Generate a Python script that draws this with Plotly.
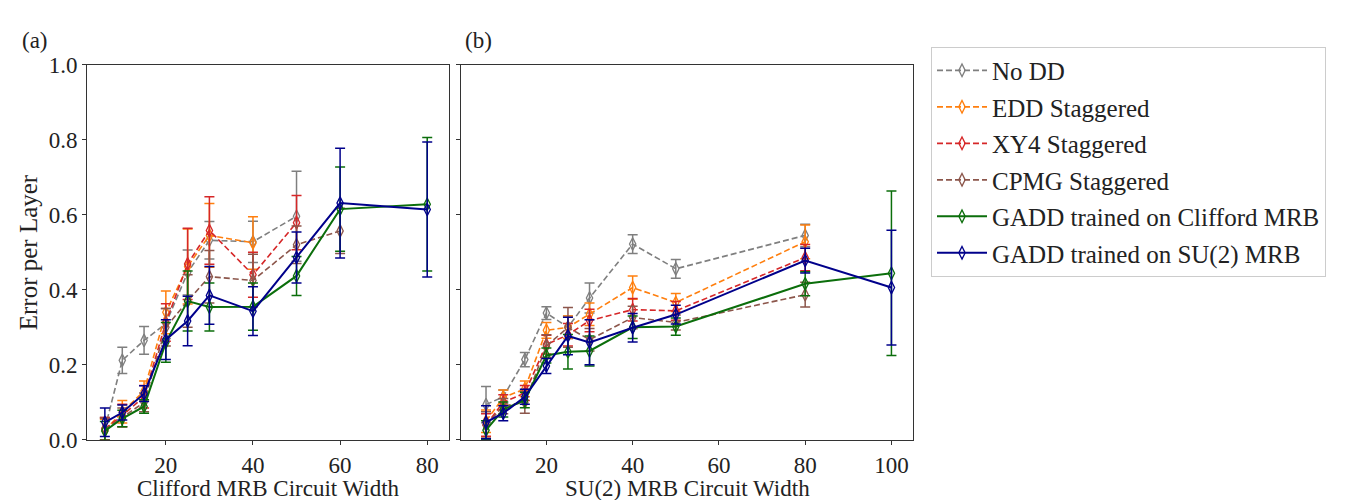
import plotly.graph_objects as go

FONT = "Times New Roman, Liberation Serif, DejaVu Serif, serif"

# widths used in each panel
widths_a = [6, 10, 15, 20, 25, 30, 40, 50, 60, 80]
widths_b = [6, 10, 15, 20, 25, 30, 40, 50, 80, 100]

# (a) Clifford MRB
nodd_a = [0.03, 0.212, 0.265, 0.31, 0.446, 0.532, 0.528, 0.596]
nodd_a_err = [0.03, 0.035, 0.037, 0.04, 0.06, 0.05, 0.055, 0.12]
edd_a = [0.025, 0.075, 0.13, 0.34, 0.462, 0.545, 0.525]
edd_a_err = [0.03, 0.03, 0.027, 0.057, 0.1, 0.085, 0.07]
xy4_a = [0.03, 0.065, 0.115, 0.313, 0.469, 0.558, 0.44, 0.579]
xy4_a_err = [0.03, 0.03, 0.03, 0.05, 0.095, 0.09, 0.06, 0.072]
cpmg_a = [0.028, 0.06, 0.10, 0.30, 0.37, 0.435, 0.425, 0.52, 0.557]
cpmg_a_err = [0.03, 0.025, 0.025, 0.05, 0.07, 0.07, 0.07, 0.05, 0.06]
gaddc_a = [0.024, 0.057, 0.089, 0.26, 0.37, 0.354, 0.355, 0.437, 0.615, 0.628]
gaddc_a_err = [0.025, 0.022, 0.018, 0.053, 0.08, 0.064, 0.063, 0.052, 0.112, 0.178]
gadds_a = [0.047, 0.073, 0.123, 0.267, 0.317, 0.385, 0.343, 0.486, 0.631, 0.614]
gadds_a_err = [0.038, 0.02, 0.021, 0.053, 0.066, 0.077, 0.065, 0.068, 0.146, 0.18]

# (b) SU(2) MRB
nodd_b = [0.094, 0.115, 0.214, 0.338, 0.30, 0.378, 0.522, 0.456, 0.545]
nodd_b_err = [0.048, 0.018, 0.019, 0.017, 0.03, 0.04, 0.025, 0.025, 0.03]
edd_b = [0.05, 0.113, 0.136, 0.292, 0.30, 0.335, 0.406, 0.366, 0.528]
edd_b_err = [0.03, 0.02, 0.021, 0.021, 0.03, 0.03, 0.031, 0.024, 0.045]
xy4_b = [0.04, 0.10, 0.125, 0.254, 0.28, 0.318, 0.347, 0.344, 0.486]
xy4_b_err = [0.03, 0.02, 0.02, 0.025, 0.03, 0.03, 0.03, 0.025, 0.035]
cpmg_b = [0.04, 0.09, 0.10, 0.25, 0.30, 0.267, 0.326, 0.313, 0.387]
cpmg_b_err = [0.035, 0.02, 0.029, 0.03, 0.053, 0.03, 0.03, 0.02, 0.033]
gaddc_b = [0.026, 0.081, 0.106, 0.225, 0.235, 0.237, 0.30, 0.302, 0.416, 0.444]
gaddc_b_err = [0.025, 0.02, 0.02, 0.02, 0.046, 0.04, 0.03, 0.023, 0.032, 0.219]
gadds_b = [0.047, 0.071, 0.115, 0.197, 0.277, 0.26, 0.299, 0.334, 0.478, 0.406]
gadds_b_err = [0.044, 0.02, 0.02, 0.02, 0.05, 0.06, 0.038, 0.025, 0.033, 0.153]

series = [
    ("No DD", "#7f7f7f", True, nodd_a, nodd_a_err, nodd_b, nodd_b_err),
    ("EDD Staggered", "#ff7f0e", True, edd_a, edd_a_err, edd_b, edd_b_err),
    ("XY4 Staggered", "#d62728", True, xy4_a, xy4_a_err, xy4_b, xy4_b_err),
    ("CPMG Staggered", "#8c564b", True, cpmg_a, cpmg_a_err, cpmg_b, cpmg_b_err),
    ("GADD trained on Clifford MRB", "#0b6e0b", False, gaddc_a, gaddc_a_err, gaddc_b, gaddc_b_err),
    ("GADD trained on SU(2) MRB", "#00008b", False, gadds_a, gadds_a_err, gadds_b, gadds_b_err),
]

fig = go.Figure()
for name, color, dashed, ya, ea, yb, eb in series:
    line = dict(color=color, width=1.6 if dashed else 2, dash="6px,3px" if dashed else "solid")
    for xs, ys, es, ax, show in [(widths_a, ya, ea, "x", True), (widths_b, yb, eb, "x2", False)]:
        fig.add_trace(go.Scatter(
            x=xs[:len(ys)], y=ys,
            mode="lines+markers",
            name=name,
            legendgroup=name,
            showlegend=show,
            xaxis=ax, yaxis="y" if ax == "x" else "y2",
            line=line,
            marker=dict(symbol="diamond-tall-open", size=9, color=color, line=dict(width=1.3, color=color)),
            error_y=dict(type="data", array=es, visible=True, color=color, thickness=1.5, width=5),
        ))

W, H = 1353, 500
axis_common = dict(
    showgrid=False, zeroline=False, showline=True, linecolor="#333", linewidth=1,
    mirror=True, ticks="outside", ticklen=4, tickcolor="#333",
    tickfont=dict(family=FONT, size=23, color="#222"),
)
y0, y1 = 1 - 442 / H, 1 - 47 / H

fig.update_layout(
    width=W, height=H,
    margin=dict(l=0, r=0, t=0, b=0),
    paper_bgcolor="white", plot_bgcolor="white",
    font=dict(family=FONT, size=25, color="#222"),
    xaxis=dict(domain=[79 / W, 441 / W], range=[1.9, 85], tickvals=[20, 40, 60, 80], **axis_common),
    yaxis=dict(domain=[y0, y1], range=[0, 1], tickvals=[0, 0.2, 0.4, 0.6, 0.8, 1.0],
               tickformat=".1f", **axis_common),
    xaxis2=dict(domain=[453 / W, 905 / W], range=[0.2, 105], tickvals=[0, 20, 40, 60, 80, 100],
                anchor="y2", **axis_common),
    yaxis2=dict(domain=[y0, y1], range=[0, 1], tickvals=[0, 0.2, 0.4, 0.6, 0.8, 1.0],
                showticklabels=False, anchor="x2", **axis_common),
    legend=dict(
        x=923 / W, y=1 - 28 / H, xanchor="left", yanchor="top",
        bordercolor="#cccccc", borderwidth=1, bgcolor="white",
        font=dict(family=FONT, size=25, color="#222"),
        tracegroupgap=1, itemwidth=50,
    ),
    annotations=[
        dict(text="(a)", x=12 / W, y=1 - 22 / H, xref="paper", yref="paper", showarrow=False,
             xanchor="left", yanchor="middle", font=dict(size=23)),
        dict(text="(b)", x=455 / W, y=1 - 22 / H, xref="paper", yref="paper", showarrow=False,
             xanchor="left", yanchor="middle", font=dict(size=23)),
        dict(text="Error per Layer", x=20 / W, y=(y0 + y1) / 2, xref="paper", yref="paper",
             showarrow=False, textangle=-90, xanchor="center", yanchor="middle", font=dict(size=25)),
        dict(text="Clifford MRB Circuit Width", x=260 / W, y=1 - 493 / H, xref="paper", yref="paper",
             showarrow=False, xanchor="center", yanchor="middle", font=dict(size=23)),
        dict(text="SU(2) MRB Circuit Width", x=679 / W, y=1 - 493 / H, xref="paper", yref="paper",
             showarrow=False, xanchor="center", yanchor="middle", font=dict(size=23)),
    ],
)

fig.write_html("out.html")
